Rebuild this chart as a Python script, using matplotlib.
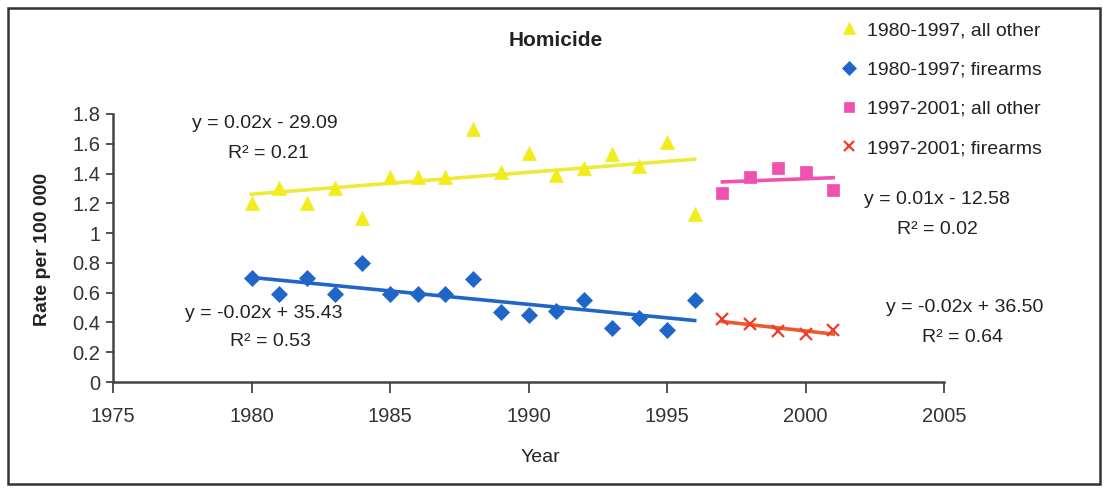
import numpy as np
import matplotlib
matplotlib.use("Agg")
from matplotlib import pyplot as plt
from matplotlib.patches import Rectangle

plt.rcParams['font.family'] = ['Liberation Sans', 'DejaVu Sans']

# values
years_a = np.arange(1980, 1997)
other_a = [1.20, 1.30, 1.20, 1.30, 1.10, 1.38, 1.38, 1.38, 1.70, 1.41,
           1.54, 1.39, 1.44, 1.53, 1.45, 1.61, 1.13]
firearms_a = [0.70, 0.59, 0.70, 0.59, 0.80, 0.59, 0.59, 0.59, 0.69, 0.47,
              0.45, 0.48, 0.55, 0.36, 0.43, 0.35, 0.55]

years_b = np.arange(1997, 2002)
other_b = [1.27, 1.38, 1.44, 1.41, 1.29]
firearms_b = [0.42, 0.39, 0.34, 0.32, 0.35]

labels = ["1980-1997, all other", "1980-1997; firearms",
          "1997-2001; all other", "1997-2001; firearms"]
equations = [("y = 0.02x - 29.09", "R² = 0.21"),
             ("y = -0.02x + 35.43", "R² = 0.53"),
             ("y = 0.01x - 12.58", "R² = 0.02"),
             ("y = -0.02x + 36.50", "R² = 0.64")]

W, H = 1107, 495
fig = plt.figure(figsize=(W / 100, H / 100), dpi=100)
ax = fig.add_axes([113 / W, 1 - 382 / H, (944 - 113) / W, (382 - 114) / H])


def px(x, y):
    return x / W, 1 - y / H


series = [
    (years_a, other_a, '^', '#f2ec1c', '#eeea3a', 10, labels[0]),
    (years_a, firearms_a, 'D', '#1f66c8', '#1f66c8', 8, labels[1]),
    (years_b, other_b, 's', '#f050ae', '#f050ae', 9, labels[2]),
    (years_b, firearms_b, 'x', '#f03c28', '#ee5a30', 9, labels[3]),
]

for xs, ys, mk, mc, lc, ms, lab in series:
    a, b = np.polyfit(xs, ys, 1)
    ax.plot(xs, a * xs + b, color=lc, lw=2.6, zorder=2)
    ax.plot(xs, ys, linestyle='none', marker=mk, color=mc, markersize=ms,
            markeredgewidth=1.6 if mk == 'x' else 0.5, label=lab, zorder=3)

ax.set_xlim(1975, 2005)
ax.set_ylim(0, 1.8)
ax.set_xticks(range(1975, 2006, 5))
ax.set_yticks(np.arange(0, 1.81, 0.2))
ax.set_yticklabels(['0', '0.2', '0.4', '0.6', '0.8', '1', '1.2', '1.4', '1.6', '1.8'])
for s in ['top', 'right']:
    ax.spines[s].set_visible(False)
for s in ['left', 'bottom']:
    ax.spines[s].set_color('#444444')
    ax.spines[s].set_linewidth(1.8)
ax.tick_params(axis='both', direction='out', colors='#444444', labelcolor='#333333',
               labelsize=14.5, width=1.3)
ax.tick_params(axis='x', length=8, pad=10)
ax.tick_params(axis='y', length=5, pad=4)

fig.text(*px(556, 40), "Homicide", fontsize=15, fontweight='bold',
         ha='center', va='center', color='#222222')
fig.text(*px(43, 249), "Rate per 100 000", fontsize=14, fontweight='bold',
         rotation=90, ha='center', va='center', color='#222222')
fig.text(*px(540, 457), "Year", fontsize=14, ha='center', va='center', color='#222222')

eq_pos = [((265, 123), (268, 153)), ((264, 313), (270, 341)),
          ((937, 200), (937, 230)), ((965, 307), (963, 337))]
for (e1, e2), (p1, p2) in zip(equations, eq_pos):
    fig.text(*px(*p1), e1, fontsize=14, ha='center', va='center', color='#222222')
    fig.text(*px(*p2), e2, fontsize=14, ha='center', va='center', color='#222222')

fig.legend(loc='upper left', bbox_to_anchor=px(824, 4), frameon=False,
           fontsize=14, handlelength=0.8, handletextpad=0.5, labelspacing=1.12,
           labelcolor='#222222', markerscale=0.85)

fig.patches.append(Rectangle(px(8, 484), 1092 / W, 476 / H, transform=fig.transFigure,
                             fill=False, edgecolor='#333333', linewidth=1.8))

fig.savefig('out.png', dpi=100, facecolor='white')
